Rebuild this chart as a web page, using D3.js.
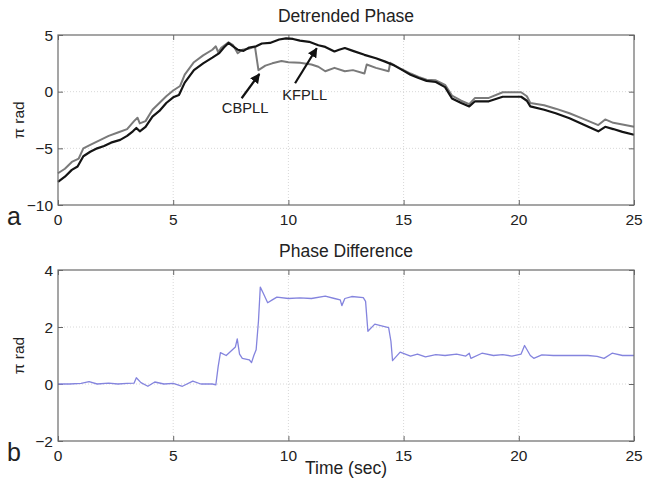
<!DOCTYPE html>
<html>
<head>
<meta charset="utf-8">
<script src="https://cdn.jsdelivr.net/npm/d3@7"></script>
<style>
  body { margin: 0; background: #fff; }
  svg { font-family: "Liberation Sans", Arial, sans-serif; }
  .grid line { stroke: #d8d8d8; stroke-dasharray: 1,2; }
  .frame { fill: none; stroke: #6a6a6a; stroke-width: 1.2; }
</style>
</head>
<body>
<svg id="chart" width="645" height="482"></svg>
<script>
// time axis ticks
const timeTicks = [0, 5, 10, 15, 20, 25];
const phaseTicks = [-10, -5, 0, 5];
const diffTicks = [-2, 0, 2, 4];

// KFPLL detrended phase (pi rad)
const kfTime = [0, 0.3, 0.6, 0.85, 1.1, 1.4, 1.7, 2.0, 2.3, 2.7, 3.0, 3.25, 3.4, 3.55, 3.8, 4.1, 4.4, 4.7, 5.0, 5.25,
  5.5, 5.9, 6.3, 6.7, 7.0, 7.2, 7.4, 7.6, 7.8, 8.05, 8.3, 8.6, 8.85, 9.2, 9.6, 9.9, 10.2, 10.5, 10.9, 11.3,
  11.6, 12.0, 12.2, 12.45, 12.8, 13.3, 13.8, 14.2, 14.6, 14.95, 15.3, 15.65, 16.0, 16.4, 16.8, 17.1, 17.5, 17.85, 18.1, 18.7,
  19.3, 20.1, 20.35, 20.5, 21.1, 21.6, 22.2, 22.8, 23.45, 23.75, 24.1, 24.5, 25.0];
const kfPhase = [-7.95, -7.5, -6.9, -6.6, -5.7, -5.3, -5.0, -4.8, -4.5, -4.25, -3.9, -3.5, -3.2, -3.5, -3.1, -2.2, -1.7, -1.0, -0.5, -0.3,
  0.8, 1.9, 2.5, 3.0, 3.4, 3.9, 4.3, 4.0, 3.7, 3.6, 3.9, 4.0, 4.25, 4.3, 4.6, 4.7, 4.65, 4.5, 4.4, 4.1,
  3.95, 3.55, 3.7, 3.85, 3.6, 3.25, 2.95, 2.65, 2.3, 1.9, 1.5, 1.2, 0.95, 0.85, 0.4, -0.6, -1.0, -1.3, -0.85, -0.85,
  -0.45, -0.45, -0.8, -1.3, -1.6, -1.9, -2.35, -2.9, -3.5, -3.1, -3.3, -3.55, -3.8];

// CBPLL detrended phase (pi rad)
const cbTime = [0, 0.3, 0.6, 0.9, 1.1, 1.4, 1.8, 2.2, 2.6, 3.0, 3.3, 3.45, 3.55, 3.8, 4.1, 4.4, 4.7, 5.0, 5.3, 5.5,
  5.9, 6.3, 6.7, 6.85, 6.95, 7.1, 7.4, 7.6, 7.8, 8.0, 8.3, 8.55, 8.7, 9.0, 9.3, 9.7, 10.0, 10.5, 11.0, 11.3,
  11.6, 12.0, 12.45, 12.8, 13.3, 13.4, 13.8, 14.35, 14.42, 14.9, 15.3, 15.65, 16.0, 16.4, 16.8, 17.1, 17.5, 17.85, 18.1, 18.7,
  19.3, 20.1, 20.35, 20.5, 21.1, 21.6, 22.2, 22.8, 23.45, 23.75, 24.1, 24.5, 25.0];
const cbPhase = [-7.2, -6.8, -6.2, -5.9, -5.0, -4.7, -4.3, -3.9, -3.6, -3.3, -2.6, -2.3, -2.8, -2.6, -1.6, -1.0, -0.4, 0.1, 0.5, 1.5,
  2.6, 3.2, 3.7, 4.0, 3.5, 3.9, 4.35, 4.1, 3.4, 3.7, 3.8, 3.95, 1.9, 2.3, 2.5, 2.7, 2.6, 2.55, 2.4, 2.2,
  1.8, 2.1, 1.8, 1.9, 1.6, 2.4, 2.1, 1.8, 2.55, 2.0, 1.6, 1.3, 1.05, 1.0, 0.6, -0.35, -0.8, -1.1, -0.55, -0.55,
  -0.05, -0.05, -0.4, -1.0, -1.2, -1.5, -1.9, -2.4, -2.95, -2.45, -2.75, -2.9, -3.1];

// phase difference (pi rad)
const diffTime = [0, 0.5, 1.0, 1.35, 1.7, 2.2, 2.6, 3.0, 3.3, 3.4, 3.6, 3.9, 4.2, 4.6, 5.0, 5.4, 5.85, 6.2, 6.7, 6.85,
  6.95, 7.05, 7.3, 7.5, 7.7, 7.78, 7.88, 8.0, 8.3, 8.4, 8.5, 8.6, 8.7, 8.78, 8.9, 9.1, 9.3, 9.5, 10.0, 10.5,
  11.0, 11.6, 12.0, 12.25, 12.32, 12.45, 12.75, 13.25, 13.35, 13.45, 13.75, 14.0, 14.35, 14.45, 14.52, 14.85, 15.3, 15.6, 15.95, 16.4,
  16.8, 17.3, 17.7, 17.85, 17.92, 18.4, 18.9, 19.3, 19.7, 20.1, 20.25, 20.5, 20.65, 21.0, 21.5, 22.0, 22.5, 23.0, 23.4, 23.7,
  24.05, 24.5, 25.0];
const diffValue = [0, 0, 0.02, 0.08, 0, 0.03, 0, 0.02, 0.03, 0.22, 0.05, -0.08, 0.07, 0, 0.02, -0.08, 0.1, 0, 0, -0.03,
  0.6, 1.1, 1.0, 1.15, 1.3, 1.58, 1.05, 0.9, 0.85, 0.75, 1.0, 1.2, 2.2, 3.4, 3.2, 2.85, 2.95, 3.05, 3.0, 3.02,
  3.0, 3.08, 3.0, 2.95, 2.75, 3.0, 3.07, 3.03, 2.9, 1.85, 2.1, 2.05, 1.98, 1.5, 0.82, 1.12, 0.98, 1.05, 0.95, 1.03,
  1.0, 1.05, 0.98, 1.08, 0.9, 1.08, 1.0, 1.03, 0.98, 1.05, 1.35, 1.0, 0.9, 1.02, 1.0, 1.0, 1.0, 1.0, 0.97, 0.9,
  1.08, 1.0, 1.0];

// arrow annotations: label, label anchor (t, v), arrow tail, arrow head
const notes = [
  { label: 'CBPLL', at: [8.12, -1.88], from: [7.97, -0.58], to: [8.74, 1.56] },
  { label: 'KFPLL', at: [10.71, -0.73], from: [10.29, 0.74], to: [11.23, 3.83] }
];

const svg = d3.select('#chart');
const left = 58, right = 634;

svg.append('defs').append('marker')
  .attr('id', 'head')
  .attr('viewBox', '0 0 10 10')
  .attr('refX', 9).attr('refY', 5)
  .attr('markerWidth', 4.5).attr('markerHeight', 4.5)
  .attr('orient', 'auto')
  .append('path')
  .attr('d', 'M0,0L10,5L0,10z')
  .attr('fill', '#111');

function panel(opts) {
  const x = d3.scaleLinear().domain([0, 25]).range([left, right]);
  const y = d3.scaleLinear().domain(opts.yDomain).range([opts.bottom, opts.top]);
  const g = svg.append('g');

  // grid
  const grid = g.append('g').attr('class', 'grid');
  grid.selectAll('line.vx')
    .data(timeTicks.slice(1, -1))
    .enter().append('line')
    .attr('x1', d => x(d)).attr('x2', d => x(d))
    .attr('y1', opts.top).attr('y2', opts.bottom);
  grid.selectAll('line.hy')
    .data(opts.yTicks.slice(1, -1))
    .enter().append('line')
    .attr('x1', left).attr('x2', right)
    .attr('y1', d => y(d)).attr('y2', d => y(d));

  // inward ticks, left/bottom axes plus mirrored top/right
  const tickLen = 5;
  g.append('g')
    .attr('transform', `translate(0,${opts.bottom})`)
    .call(d3.axisTop(x).tickValues(timeTicks).tickSize(tickLen).tickFormat(''))
    .call(a => a.select('.domain').remove())
    .call(a => a.selectAll('line').attr('stroke', '#666'));
  g.append('g')
    .attr('transform', `translate(0,${opts.top})`)
    .call(d3.axisBottom(x).tickValues(timeTicks).tickSize(tickLen).tickFormat(''))
    .call(a => a.select('.domain').remove())
    .call(a => a.selectAll('line').attr('stroke', '#666'));
  g.append('g')
    .attr('transform', `translate(${left},0)`)
    .call(d3.axisRight(y).tickValues(opts.yTicks).tickSize(tickLen).tickFormat(''))
    .call(a => a.select('.domain').remove())
    .call(a => a.selectAll('line').attr('stroke', '#666'));
  g.append('g')
    .attr('transform', `translate(${right},0)`)
    .call(d3.axisLeft(y).tickValues(opts.yTicks).tickSize(tickLen).tickFormat(''))
    .call(a => a.select('.domain').remove())
    .call(a => a.selectAll('line').attr('stroke', '#666'));

  // tick labels
  g.selectAll('text.xt')
    .data(timeTicks)
    .enter().append('text')
    .attr('x', d => x(d))
    .attr('y', opts.bottom + 20)
    .attr('text-anchor', 'middle')
    .attr('font-size', 15.5)
    .attr('fill', '#222')
    .text(d3.format('d'));
  g.selectAll('text.yt')
    .data(opts.yTicks)
    .enter().append('text')
    .attr('x', left - 5)
    .attr('y', d => y(d) + 5.5)
    .attr('text-anchor', 'end')
    .attr('font-size', 15.5)
    .attr('fill', '#222')
    .text(d3.format('d'));

  // lines
  const line = d3.line().x(d => x(d[0])).y(d => y(d[1]));
  opts.series.forEach(s => {
    g.append('path')
      .datum(d3.zip(s.t, s.v))
      .attr('d', line)
      .attr('fill', 'none')
      .attr('stroke', s.color)
      .attr('stroke-width', s.width)
      .attr('stroke-linejoin', 'round');
  });

  g.append('rect')
    .attr('class', 'frame')
    .attr('x', left).attr('y', opts.top)
    .attr('width', right - left).attr('height', opts.bottom - opts.top);

  // titles
  g.append('text')
    .attr('x', (left + right) / 2)
    .attr('y', opts.top - 13)
    .attr('text-anchor', 'middle')
    .attr('font-size', 17.5)
    .attr('fill', '#222')
    .text(opts.title);
  g.append('text')
    .attr('transform', `translate(24,${(opts.top + opts.bottom) / 2}) rotate(-90)`)
    .attr('text-anchor', 'middle')
    .attr('font-size', 15.5)
    .attr('fill', '#222')
    .text('π rad');
  g.append('text')
    .attr('x', 7)
    .attr('y', opts.bottom + 20)
    .attr('font-size', 25)
    .attr('fill', '#222')
    .text(opts.letter);

  return { g, x, y };
}

const topPanel = panel({
  title: 'Detrended Phase', letter: 'a',
  top: 35, bottom: 205, yDomain: [-10, 5], yTicks: phaseTicks,
  series: [
    { t: cbTime, v: cbPhase, color: '#7a7a7a', width: 2 },
    { t: kfTime, v: kfPhase, color: '#141414', width: 2.2 }
  ]
});

notes.forEach(n => {
  topPanel.g.append('line')
    .attr('x1', topPanel.x(n.from[0])).attr('y1', topPanel.y(n.from[1]))
    .attr('x2', topPanel.x(n.to[0])).attr('y2', topPanel.y(n.to[1]))
    .attr('stroke', '#111')
    .attr('stroke-width', 2.2)
    .attr('marker-end', 'url(#head)');
  topPanel.g.append('text')
    .attr('x', topPanel.x(n.at[0]))
    .attr('y', topPanel.y(n.at[1]))
    .attr('text-anchor', 'middle')
    .attr('font-size', 14.7)
    .attr('fill', '#222')
    .text(n.label);
});

const bottomPanel = panel({
  title: 'Phase Difference', letter: 'b',
  top: 270, bottom: 441, yDomain: [-2, 4], yTicks: diffTicks,
  series: [
    { t: diffTime, v: diffValue, color: '#8484de', width: 1.3 }
  ]
});

bottomPanel.g.append('text')
  .attr('x', (left + right) / 2)
  .attr('y', 474)
  .attr('text-anchor', 'middle')
  .attr('font-size', 17.5)
  .attr('fill', '#222')
  .text('Time (sec)');
</script>
</body>
</html>
